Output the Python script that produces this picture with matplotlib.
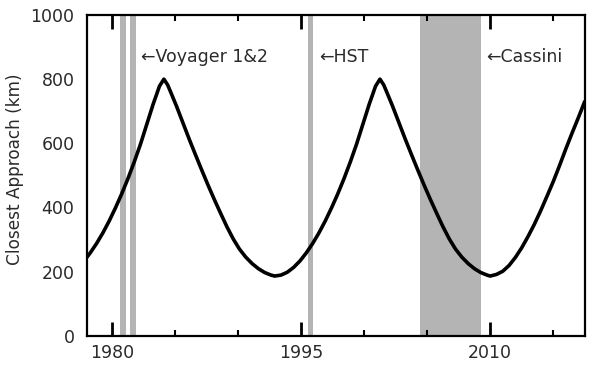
import matplotlib
matplotlib.use("Agg")
import matplotlib.pyplot as plt
from matplotlib.ticker import MultipleLocator

years = [1978.0, 1978.25, 1978.75, 1979.25, 1979.75, 1980.25, 1980.75, 1981.25, 1981.75,
         1982.25, 1982.75, 1983.25, 1983.75, 1984.1,
         1984.4, 1984.7, 1985.1, 1985.6, 1986.1, 1986.6, 1987.1, 1987.6, 1988.1, 1988.6,
         1989.1, 1989.6, 1990.1, 1990.6, 1991.1, 1991.6, 1992.1, 1992.6, 1992.9,
         1993.4, 1993.9, 1994.4, 1994.9, 1995.4, 1995.9, 1996.4, 1996.9, 1997.4, 1997.9,
         1998.4, 1998.9, 1999.4, 1999.9, 2000.4, 2000.9, 2001.25,
         2001.55, 2001.85, 2002.25, 2002.75, 2003.25, 2003.75, 2004.25, 2004.75, 2005.25,
         2005.75, 2006.25, 2006.75, 2007.25, 2007.75, 2008.25, 2008.75, 2009.25, 2009.75, 2010.0,
         2010.5, 2011.0, 2011.5, 2012.0, 2012.5, 2013.0, 2013.5, 2014.0, 2014.5, 2015.0,
         2015.5, 2016.0, 2016.5, 2017.0, 2017.5]
approach_km = [245, 258, 287, 320, 357, 398, 442, 490, 542,
               598, 660, 722, 778, 800,
               782, 754, 716, 665, 614, 565, 517, 470, 425, 382,
               340, 302, 270, 245, 225, 209, 197, 189, 186,
               189, 198, 213, 233, 258, 287, 320, 357, 398, 442,
               490, 542, 598, 660, 722, 778, 800,
               782, 754, 716, 665, 614, 565, 517, 470, 425,
               382, 340, 302, 270, 245, 225, 209, 197, 189, 186,
               191, 201, 219, 244, 274, 309, 347, 389, 434, 480,
               530, 582, 632, 680, 730]

missions = ["Voyager 1&2", "HST", "Cassini"]
label_years = [1981.85, 1995.95, 2009.25]
bands = [(1980.64, 1981.06), (1981.43, 1981.85), (1995.55, 1995.95), (2004.43, 2009.25)]

xticks = [1980, 1995, 2010]
yticks = [0, 200, 400, 600, 800, 1000]

TXT = "#2a2a2a"

fig = plt.figure(figsize=(5.94, 3.65), dpi=100)
ax = fig.add_axes([0.1465, 0.0803, 0.8378, 0.8786])

for x0, x1 in bands:
    ax.axvspan(x0, x1, color="#b4b4b4", lw=0, zorder=1)

ax.plot(years, approach_km, color="black", lw=2.6, zorder=3,
        solid_capstyle="round", solid_joinstyle="round")

for name, xy in zip(missions, label_years):
    ax.text(xy + 0.45, 869, "\u2190" + name, fontsize=12.5, color=TXT,
            va="center", ha="left", zorder=4)

ax.set_xlim(1978, 2017.5)
ax.set_ylim(0, 1000)
ax.set_xticks(xticks)
ax.set_xticklabels([str(t) for t in xticks])
ax.xaxis.set_minor_locator(MultipleLocator(5))
ax.set_yticks(yticks)
ax.set_yticklabels([str(t) for t in yticks])

ax.tick_params(axis="x", which="major", direction="in", length=10, width=2,
               top=True, bottom=True, labelsize=12.5, labelcolor=TXT, pad=6)
ax.tick_params(axis="x", which="minor", direction="in", length=4.5, width=1.5,
               top=True, bottom=True)
ax.tick_params(axis="y", which="both", length=0, labelsize=12.5, labelcolor=TXT, pad=9)
for s in ax.spines.values():
    s.set_linewidth(1.6)

ax.set_ylabel("Closest Approach (km)", fontsize=12.2, color=TXT)
ax.yaxis.set_label_coords(-0.126, 0.52)

fig.savefig("out.png", dpi=100)
